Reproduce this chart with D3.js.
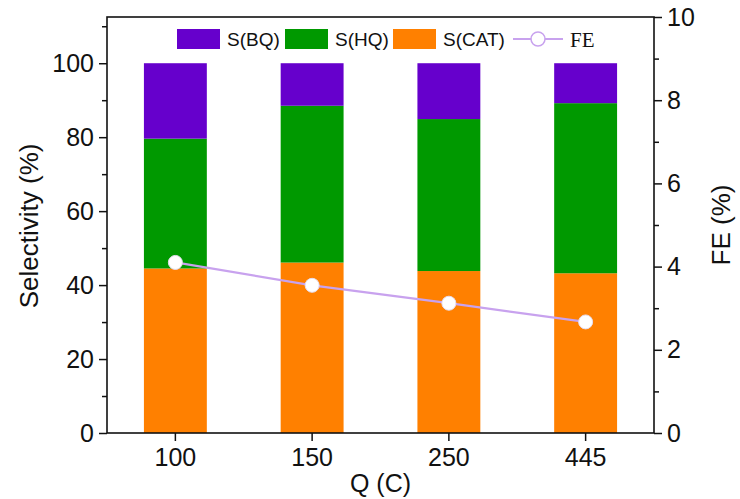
<!DOCTYPE html>
<html>
<head>
<meta charset="utf-8">
<script src="https://cdn.jsdelivr.net/npm/d3@7"></script>
<style>
  body { margin: 0; background: #fff; }
  text { font-family: "Liberation Sans", Arial, sans-serif; fill: #111; }
</style>
</head>
<body>
<div id="chart"></div>
<script>
// selectivity and FE vs charge

var categories = ["100", "150", "250", "445"];
var sCAT = [44.5, 46.1, 43.8, 43.2];
var sHQ = [35.1, 42.4, 41.1, 46.0];
var sBQ = [20.4, 11.5, 15.1, 10.8];
var fe = [4.1, 3.55, 3.12, 2.67];

var width = 740, height = 499;
var margin = { top: 17, right: 86, bottom: 66, left: 107 };
var innerW = width - margin.left - margin.right;
var innerH = height - margin.top - margin.bottom;

var colors = { BQ: "#6600cc", HQ: "#009900", CAT: "#ff8000" };
var lineColor = "#c8a2ee";

var svg = d3.select("#chart").append("svg")
    .attr("width", width)
    .attr("height", height);

var g = svg.append("g")
    .attr("transform", "translate(" + margin.left + "," + margin.top + ")");

// scales
var x = d3.scaleBand()
    .domain(categories)
    .range([0, innerW])
    .paddingInner(0.54)
    .paddingOuter(0.27);

var yL = d3.scaleLinear().domain([0, 112.5]).range([innerH, 0]);
var yR = d3.scaleLinear().domain([0, 10]).range([innerH, 0]);

// stacked data
var rows = categories.map(function (c, i) {
    return { cat: c, CAT: sCAT[i], HQ: sHQ[i], BQ: sBQ[i], fe: fe[i] };
});
var stack = d3.stack().keys(["CAT", "HQ", "BQ"]);
var series = stack(rows);

g.selectAll(".layer")
    .data(series)
    .enter()
    .append("g")
    .attr("class", "layer")
    .attr("fill", function (d) { return colors[d.key]; })
    .selectAll("rect")
    .data(function (d) { return d; })
    .enter()
    .append("rect")
    .attr("x", function (d) { return x(d.data.cat); })
    .attr("width", x.bandwidth())
    .attr("y", function (d) { return yL(d[1]); })
    .attr("height", function (d) { return yL(d[0]) - yL(d[1]); });

// FE line
var cx = function (d) { return x(d.cat) + x.bandwidth() / 2; };
g.append("path")
    .datum(rows)
    .attr("fill", "none")
    .attr("stroke", lineColor)
    .attr("stroke-width", 2.2)
    .attr("d", d3.line().x(cx).y(function (d) { return yR(d.fe); }));

g.selectAll(".pt")
    .data(rows)
    .enter()
    .append("circle")
    .attr("class", "pt")
    .attr("cx", cx)
    .attr("cy", function (d) { return yR(d.fe); })
    .attr("r", 7)
    .attr("fill", "#fff")
    .attr("stroke", "#e6dcef")
    .attr("stroke-width", 1);

// axes
function styleAxis(sel) {
    sel.selectAll(".domain").remove();
    sel.selectAll("line").attr("stroke", "#111").attr("stroke-width", 1.5);
    sel.selectAll("text").style("font-size", "25px").attr("fill", "#111");
}

var gx = g.append("g")
    .attr("transform", "translate(0," + innerH + ")")
    .call(d3.axisBottom(x).tickSize(8).tickPadding(7));
styleAxis(gx);

var gl = g.append("g")
    .call(d3.axisLeft(yL).tickValues([0, 20, 40, 60, 80, 100]).tickSize(8).tickPadding(5));
styleAxis(gl);
g.append("g")
    .call(d3.axisLeft(yL).tickValues([10, 30, 50, 70, 90, 110]).tickSize(5).tickFormat(""))
    .call(styleAxis);

var gr = g.append("g")
    .attr("transform", "translate(" + innerW + ",0)")
    .call(d3.axisRight(yR).tickValues([0, 2, 4, 6, 8, 10]).tickSize(8).tickPadding(5));
styleAxis(gr);
g.append("g")
    .attr("transform", "translate(" + innerW + ",0)")
    .call(d3.axisRight(yR).tickValues([1, 3, 5, 7, 9]).tickSize(5).tickFormat(""))
    .call(styleAxis);

// frame
g.append("rect")
    .attr("width", innerW)
    .attr("height", innerH)
    .attr("fill", "none")
    .attr("stroke", "#111")
    .attr("stroke-width", 1.6);

// axis titles
svg.append("text")
    .attr("transform", "translate(38," + (margin.top + yL(56)) + ") rotate(-90)")
    .attr("text-anchor", "middle")
    .style("font-size", "26px")
    .text("Selectivity (%)");

svg.append("text")
    .attr("transform", "translate(730," + (margin.top + yR(5)) + ") rotate(-90)")
    .attr("text-anchor", "middle")
    .style("font-size", "26px")
    .text("FE (%)");

svg.append("text")
    .attr("x", margin.left + innerW / 2)
    .attr("y", 492)
    .attr("text-anchor", "middle")
    .style("font-size", "25px")
    .text("Q (C)");

// legend
var legend = svg.append("g").attr("transform", "translate(177,29)");
var legItems = [
    { key: "BQ", label: "S(BQ)", x: 0 },
    { key: "HQ", label: "S(HQ)", x: 108 },
    { key: "CAT", label: "S(CAT)", x: 216 }
];
legItems.forEach(function (d) {
    legend.append("rect")
        .attr("x", d.x).attr("y", 0)
        .attr("width", 43).attr("height", 20)
        .attr("fill", colors[d.key]);
    legend.append("text")
        .attr("x", d.x + 50).attr("y", 17)
        .style("font-size", "19px")
        .text(d.label);
});
legend.append("line")
    .attr("x1", 336).attr("x2", 386)
    .attr("y1", 10).attr("y2", 10)
    .attr("stroke", lineColor).attr("stroke-width", 2.2);
legend.append("circle")
    .attr("cx", 361).attr("cy", 10).attr("r", 7)
    .attr("fill", "#fff").attr("stroke", lineColor).attr("stroke-width", 1.5);
legend.append("text")
    .attr("x", 393).attr("y", 18)
    .style("font-family", "'Liberation Serif', 'Times New Roman', serif")
    .style("font-size", "21px")
    .text("FE");
</script>
</body>
</html>
